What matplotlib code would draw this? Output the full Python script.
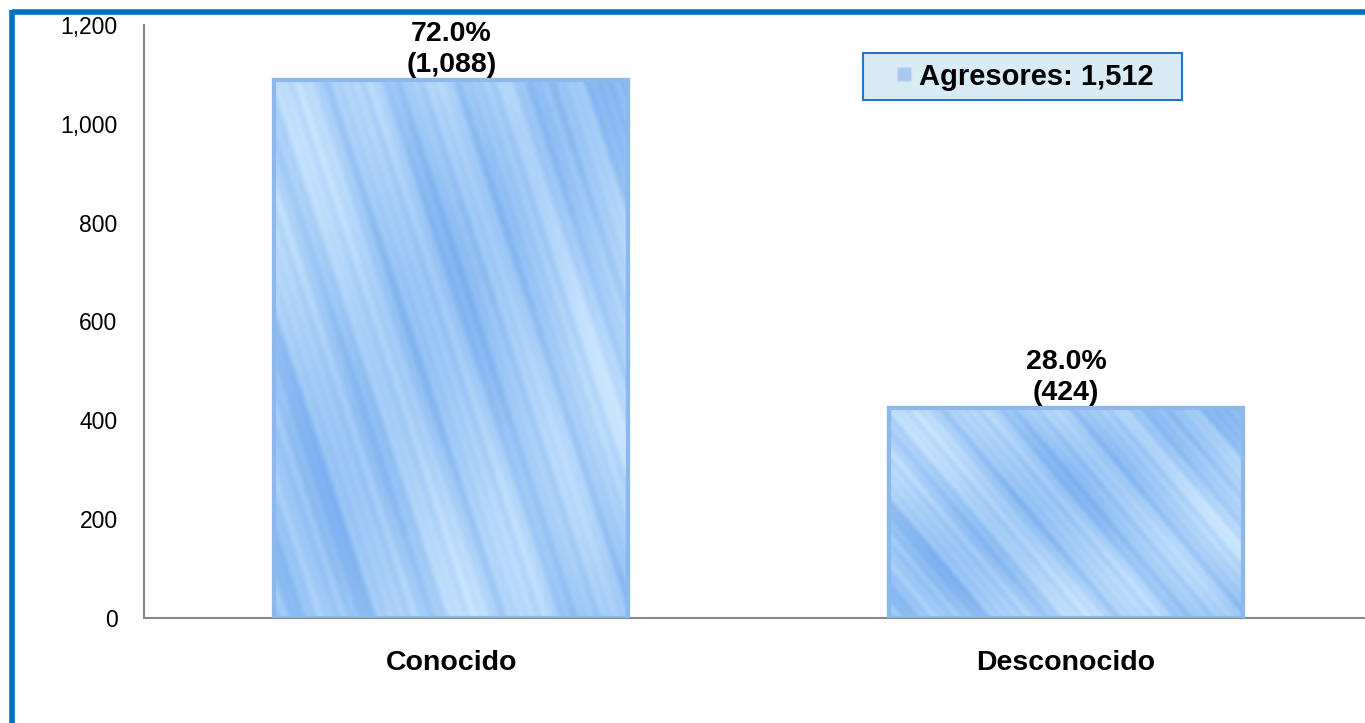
import numpy as np
import matplotlib
matplotlib.use("Agg")
import matplotlib.pyplot as plt
from matplotlib.lines import Line2D
from matplotlib.patches import Rectangle
from matplotlib.legend_handler import HandlerPatch
from matplotlib.colors import LinearSegmentedColormap
from matplotlib.ticker import FuncFormatter

categories = ["Conocido", "Desconocido"]
values = [1088, 424]
legend_label = "Agresores"
yticks = [0, 200, 400, 600, 800, 1000, 1200]

plt.rcParams['font.family'] = ['Liberation Sans', 'DejaVu Sans']

total = sum(values)
x = np.arange(len(categories))
bar_w = 0.576

fig = plt.figure(figsize=(13.65, 7.23), dpi=100)
ax = fig.add_axes([144 / 1365, 105 / 723, 1229.5 / 1365, 593 / 723])

bars = ax.bar(x, values, width=bar_w, color="#a9cff8", edgecolor="#8db8ec",
              linewidth=3, zorder=2)

# soft streaky blue fill, drawn inside each bar
cmap = LinearSegmentedColormap.from_list("rain", ["#7aaff0", "#a3cbf7", "#cde6fd"])
gx, gy = np.meshgrid(np.linspace(0, 6, 240), np.linspace(0, 10, 400))
u = gx - 0.3 * gy
tex = (np.sin(5.3 * u) + 0.5 * np.sin(11.1 * u + 1.7) + 0.3 * np.sin(19.7 * u + 0.4)
       + 0.35 * np.sin(31.3 * u + 2.2)
       + 1.1 * np.sin(0.8 * gx + 0.45 * gy + 0.6) + 0.6 * np.cos(1.7 * gx - 0.6 * gy))
tex = (tex - tex.min()) / (tex.max() - tex.min())
for b in bars:
    im = ax.imshow(tex, cmap=cmap, aspect="auto", zorder=2.5, interpolation="bilinear",
                   extent=[b.get_x(), b.get_x() + b.get_width(), 0, b.get_height()])
    im.set_clip_path(b)
ax.bar(x, values, width=bar_w, color="none", edgecolor="#8db8ec", linewidth=3, zorder=3)

for xi, v in zip(x, values):
    ax.annotate(f"{v / total * 100:.1f}%\n({v:,})", (xi, v), xytext=(0, 2),
                textcoords="offset points", ha="center", va="bottom",
                fontsize=20.5, fontweight="bold", linespacing=1.25)

ax.set_xlim(-0.5, 1.5)
ax.set_ylim(0, 1200)
ax.set_yticks(yticks)
ax.yaxis.set_major_formatter(FuncFormatter(lambda v, p: f"{int(v):,}"))
ax.set_xticks(x)
ax.set_xticklabels(categories, fontsize=20.5, fontweight="bold")
ax.tick_params(axis="y", length=0, pad=19, labelsize=16.5)
ax.tick_params(axis="x", length=0, pad=23)
for s in ["top", "right"]:
    ax.spines[s].set_visible(False)
for s in ["left", "bottom"]:
    ax.spines[s].set_color("#888888")
    ax.spines[s].set_linewidth(1.5)


def small_square(legend, orig_handle, xdescent, ydescent, width, height, fontsize):
    side = 10
    return Rectangle((-xdescent + width - side, -ydescent + (height - side) / 2), side, side)


# legend box: x 863-1182 px, top at 53 px
handle = bars[0]
leg = ax.legend([handle], [f"{legend_label}: {total:,}"], loc="upper left",
                bbox_to_anchor=((863 - 144) / 1229.5, (618 - 53) / 593, 319 / 1229.5, 0),
                mode="expand", prop={"weight": "bold", "size": 21}, handlelength=1.3,
                handleheight=0.5, handletextpad=0.3, borderpad=0.33, borderaxespad=0,
                fancybox=False, framealpha=1,
                handler_map={handle: HandlerPatch(patch_func=small_square)})
leg.get_frame().set_facecolor("#d9ecf6")
leg.get_frame().set_edgecolor("#1f78c8")
leg.get_frame().set_linewidth(1.5)
leg.legend_handles[0].set_facecolor("#a9c8f0")
leg.legend_handles[0].set_edgecolor("#c5daf5")
leg.legend_handles[0].set_linewidth(1)

# blue frame along the top and left
fig.add_artist(Line2D([11.5 / 1365, 1.0], [1 - 11.5 / 723] * 2, color="#0070c0", lw=4,
                      solid_capstyle="butt"))
fig.add_artist(Line2D([11.5 / 1365] * 2, [0, 1 - 9.5 / 723], color="#0070c0", lw=4,
                      solid_capstyle="butt"))

fig.savefig("out.png", dpi=100)
